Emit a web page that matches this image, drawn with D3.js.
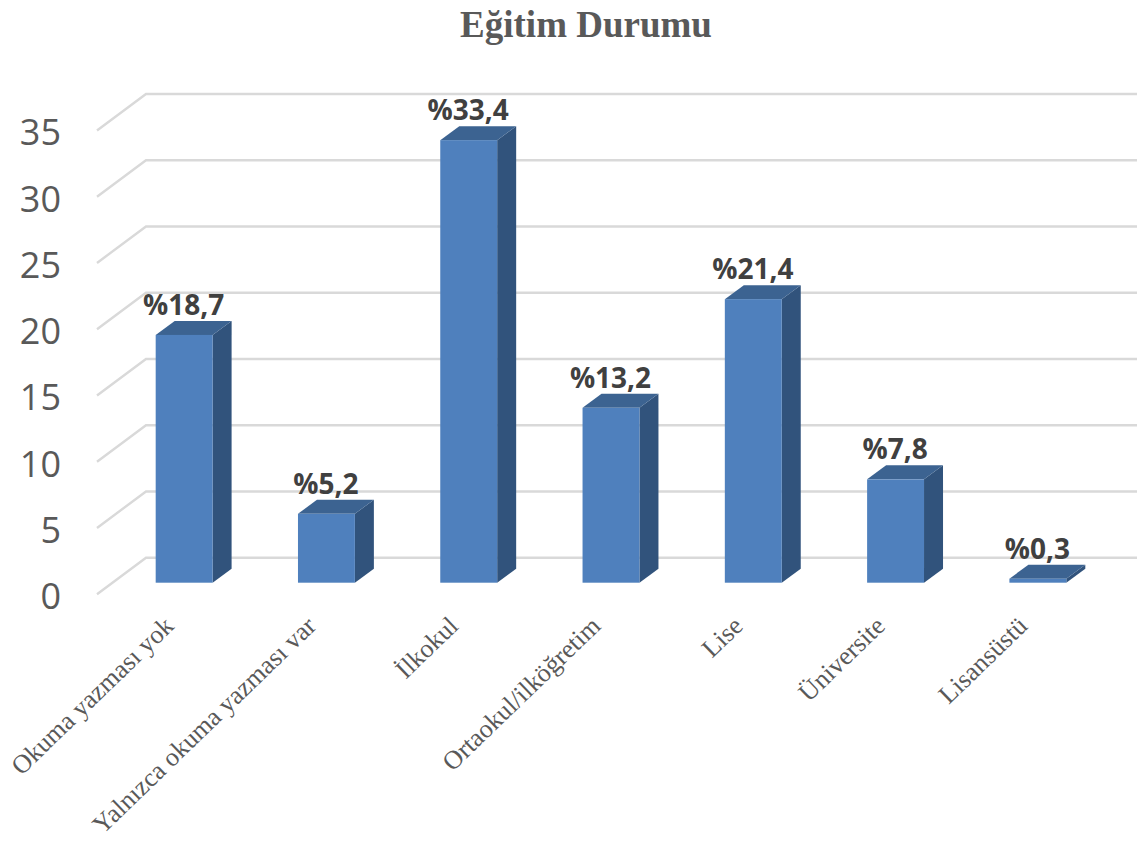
<!DOCTYPE html>
<html>
<head>
  <meta charset="utf-8">
  <title>Eğitim Durumu</title>
  <script src="https://d3js.org/d3.v7.min.js"></script>
  <style>
    html, body { margin: 0; padding: 0; background: #fff; }
    svg { display: block; }
    .title { font: bold 37px "Liberation Serif", serif; fill: #595959; }
    .y-axis text { font: 36px "Open Sans", sans-serif; fill: #595959; }
    .x-axis text { font: 26px "Liberation Serif", serif; fill: #595959; }
    .value { font: bold 28px "Open Sans", sans-serif; fill: #404040; }
    .grid { fill: none; stroke: #d9d9d9; }
  </style>
</head>
<body>
  <div id="chart"></div>
  <script>
    const categories = ["Okuma yazması yok", "Yalnızca okuma yazması var", "İlkokul", "Ortaokul/ilköğretim", "Lise", "Üniversite", "Lisansüstü"];
    const values = [18.7, 5.2, 33.4, 13.2, 21.4, 7.8, 0.3];
    const yTicks = [0, 5, 10, 15, 20, 25, 30, 35];

    const width = 1137, height = 843;
    const baseY = 582.7;

    // offsets of the fake 3d: floor in front/back of the bars, and bar depth
    const floorFront = { x: 97, dy: 11.5 };
    const floorBack = { x: 146, dy: -25 };
    const depth = { x: 19, y: -14 };

    const svg = d3.select("#chart").append("svg")
      .attr("width", width)
      .attr("height", height);

    const x = d3.scaleBand()
      .domain(categories)
      .range([113, 1109])
      .paddingInner(0.6)
      .paddingOuter(0.3);

    const y = d3.scaleLinear()
      .domain([0, 35])
      .range([baseY, baseY - 35 * 13.25]);

    svg.append("text")
      .attr("class", "title")
      .attr("x", 586)
      .attr("y", 37)
      .attr("text-anchor", "middle")
      .text("Eğitim Durumu");

    // gridlines, wall + side wall
    svg.selectAll(".grid")
      .data(yTicks)
      .enter()
      .append("path")
      .attr("class", "grid")
      .attr("stroke-width", 2.4)
      .attr("d", d => {
        const py = y(d);
        return "M" + floorFront.x + "," + (py + floorFront.dy) +
          "L" + floorBack.x + "," + (py + floorBack.dy) +
          "L" + width + "," + (py + floorBack.dy);
      });

    // y axis, only the labels are kept
    const yAxis = svg.append("g")
      .attr("class", "y-axis")
      .attr("transform", "translate(61,14.5)")
      .call(d3.axisLeft(y).tickValues(yTicks).tickSize(0).tickPadding(0));
    yAxis.select(".domain").remove();

    // x axis with rotated labels
    const xAxis = svg.append("g")
      .attr("class", "x-axis")
      .attr("transform", "translate(0," + baseY + ")")
      .call(d3.axisBottom(x).tickSize(0).tickPadding(0));
    xAxis.select(".domain").remove();
    xAxis.selectAll("text")
      .attr("text-anchor", "end")
      .attr("dy", null)
      .attr("y", 0)
      .attr("transform", "translate(-9,45) rotate(-44)");

    // bars: side, top, front
    const bar = svg.selectAll(".bar")
      .data(values)
      .enter()
      .append("g")
      .attr("class", "bar");

    const left = (d, i) => x(categories[i]);
    const right = (d, i) => x(categories[i]) + x.bandwidth();

    bar.append("path")
      .attr("fill", "#31537c")
      .attr("d", (d, i) => {
        const r = right(d, i);
        return "M" + r + "," + y(d) +
          "L" + (r + depth.x) + "," + (y(d) + depth.y) +
          "L" + (r + depth.x) + "," + (baseY + depth.y) +
          "L" + r + "," + baseY + "Z";
      });

    bar.append("path")
      .attr("fill", "#3c6391")
      .attr("d", (d, i) => {
        const l = left(d, i), r = right(d, i);
        return "M" + l + "," + y(d) +
          "L" + (l + depth.x) + "," + (y(d) + depth.y) +
          "L" + (r + depth.x) + "," + (y(d) + depth.y) +
          "L" + r + "," + y(d) + "Z";
      });

    bar.append("rect")
      .attr("fill", "#4f80bd")
      .attr("x", left)
      .attr("y", d => y(d))
      .attr("width", x.bandwidth())
      .attr("height", d => baseY - y(d));

    bar.append("text")
      .attr("class", "value")
      .attr("text-anchor", "middle")
      .attr("x", (d, i) => left(d, i) + x.bandwidth() / 2 - 0.5)
      .attr("y", d => y(d) - 20)
      .text(d => "%" + String(d).replace(".", ","));
  </script>
</body>
</html>
